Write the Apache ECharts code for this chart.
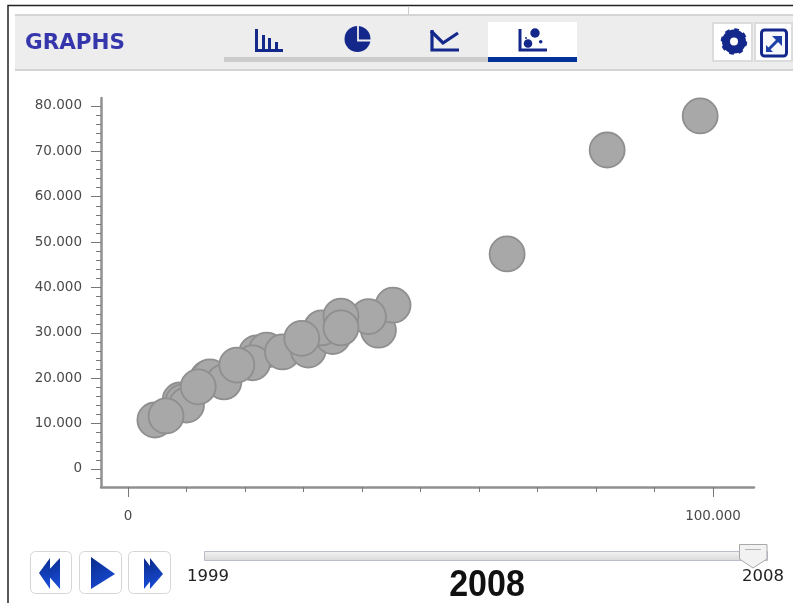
<!DOCTYPE html>
<html>
<head>
<meta charset="utf-8">
<title>Graphs</title>
<script src="https://cdn.jsdelivr.net/npm/echarts@6/dist/echarts.min.js"></script>
<style>
  html, body { margin: 0; padding: 0; background: #fff; }
  #main { width: 793px; height: 603px; }
</style>
</head>
<body>
<div id="main"></div>
<script>
var xValues = [4600, 8900, 9400, 10000, 6500, 13600, 14000, 16400, 12000, 22000, 23700, 21300, 18600, 26400, 30800, 35000, 33100, 29700, 42800, 45300, 41100, 36400, 36400, 64800, 81900, 97800];
var yValues = [10800, 15200, 14800, 14100, 11700, 20000, 20300, 19200, 18100, 25600, 26200, 23400, 22900, 25800, 26200, 29200, 31100, 28800, 30600, 36100, 33600, 33700, 31100, 47400, 70300, 77800];
var xLabelTicks = [0, 100000];
var xMinorTicks = [10000, 20000, 30000, 40000, 50000, 60000, 70000, 80000, 90000];
var yLabelTicks = [0, 10000, 20000, 30000, 40000, 50000, 60000, 70000, 80000];
var yMinorTicks = [-2000, 2000, 4000, 6000, 8000, 12000, 14000, 16000, 18000, 22000, 24000, 26000, 28000, 32000, 34000, 36000, 38000, 42000, 44000, 46000, 48000, 52000, 54000, 56000, 58000, 62000, 64000, 66000, 68000, 72000, 74000, 76000, 78000, 82000];
var yearStart = '1999';
var yearEnd = '2008';
var title = 'GRAPHS';

var points = xValues.map(function (x, i) { return [x, yValues[i]]; });
var navy = '#14288c';
var font = '"DejaVu Sans", sans-serif';

function dotted(v) {
  return String(v).replace(/\B(?=(\d{3})+$)/g, '.');
}
function box(x, y, w, h, fill, stroke, r, lw) {
  return { type: 'rect', shape: { x: x, y: y, width: w, height: h, r: r || 0 }, style: { fill: fill, stroke: stroke || null, lineWidth: stroke ? (lw || 1) : 0 } };
}
function line(pts, color, width) {
  return { type: 'polyline', shape: { points: pts }, style: { stroke: color, lineWidth: width, fill: null } };
}
function dot(x, y, r, color) {
  return { type: 'circle', shape: { cx: x, cy: y, r: r }, style: { fill: color } };
}
function poly(pts, color) {
  return { type: 'polygon', shape: { points: pts }, style: { fill: color } };
}
function label(x, y, text, size, weight, family, color, align) {
  return { type: 'text', x: x, y: y, style: { text: text, font: weight + ' ' + size + 'px ' + family, fill: color, align: align || 'center', verticalAlign: 'middle' } };
}

var blueGrad = new echarts.graphic.LinearGradient(0, 0, 1, 1, [
  { offset: 0, color: '#0a2a8a' },
  { offset: 1, color: '#1a50e0' }
]);

var bigYear = label(487, 585.5, yearEnd, 34, 'bold', '"Liberation Sans", sans-serif', '#111');
bigYear.scaleY = 1.08;

var chrome = [
  // frame and header
  line([[8, 603], [8, 5.5], [793, 5.5]], '#222', 1.5),
  line([[408.5, 6], [408.5, 15]], '#ccc', 1),
  box(15, 15, 778, 56, '#ededed'),
  box(15, 14, 778, 2, '#d4d4d4'),
  box(15, 69, 778, 2, '#d4d4d4'),
  label(25, 43.5, title, 21.5, 'bold', font, '#3636ac', 'left'),
  // tabs
  box(224, 57, 265, 5, '#cccccc'),
  box(488, 22, 89, 35, '#ffffff'),
  box(488, 57, 89, 5, '#003399'),
  // bar icon
  box(255, 29, 3, 22, navy), box(262, 35, 3, 16, navy), box(268, 38, 3, 13, navy), box(275, 42, 3, 9, navy),
  box(255, 49, 28, 3, navy),
  // pie icon
  dot(357.5, 39, 13, navy),
  line([[358, 26], [358, 40.5], [372, 40.5]], '#ededed', 1.8),
  // line icon
  line([[432, 30], [432, 50], [459, 50]], navy, 3.2),
  line([[431, 31], [443, 43], [458, 33]], navy, 3.2),
  // scatter icon
  line([[520, 29], [520, 50], [547, 50]], navy, 3),
  dot(535, 33, 4.7, navy), dot(528, 43.5, 4.3, navy), dot(540.7, 41.7, 1.8, navy), dot(526, 38, 1, navy),
  // settings and expand buttons
  box(713, 23, 39, 38, '#ffffff', '#dcdcdc', 0, 2),
  box(755, 23, 37, 38, '#ffffff', '#dcdcdc', 0, 2),
  { type: 'circle', shape: { cx: 734, cy: 41.5, r: 8 }, style: { fill: null, stroke: navy, lineWidth: 8 } },
  { type: 'circle', shape: { cx: 734, cy: 41.5, r: 12 }, style: { fill: null, stroke: navy, lineWidth: 2.5, lineDash: [4.7, 4.7] } },
  { type: 'rect', shape: { x: 761.5, y: 30, width: 25, height: 26, r: 3 }, style: { fill: '#f7f8fb', stroke: navy, lineWidth: 3 } },
  line([[769, 49], [778, 40]], '#1d3fa8', 3),
  poly([[772, 36], [782, 36], [782, 46]], '#1d3fa8'),
  poly([[766, 52], [766, 45], [773, 52]], '#1d3fa8'),
  // player buttons
  box(30.5, 551.5, 41, 42, '#ffffff', '#d6d6d6', 5),
  box(79.5, 551.5, 42, 42, '#ffffff', '#d6d6d6', 5),
  box(128.5, 551.5, 42, 42, '#ffffff', '#d6d6d6', 5),
  poly([[50, 558], [39, 573], [50, 589]], blueGrad),
  poly([[60, 558], [46, 573], [60, 589]], blueGrad),
  poly([[91, 557], [115, 574], [91, 589]], blueGrad),
  poly([[144, 558], [156, 574], [144, 589]], blueGrad),
  poly([[150, 558], [163, 574], [150, 589]], blueGrad),
  // year slider
  {
    type: 'rect', shape: { x: 204.5, y: 551.5, width: 563, height: 9 },
    style: {
      stroke: '#b9bccb', lineWidth: 1,
      fill: new echarts.graphic.LinearGradient(0, 0, 0, 1, [
        { offset: 0, color: '#f4f4f4' },
        { offset: 1, color: '#d8d8d8' }
      ])
    }
  },
  {
    type: 'polygon', shape: { points: [[739.5, 544.5], [767, 544.5], [767, 559], [753, 568], [739.5, 559]] },
    style: { fill: '#f2f2f2', stroke: '#a8a8a8', lineWidth: 1 }
  },
  line([[745, 549.5], [761, 549.5]], '#b4b4b4', 1),
  label(187, 577, yearStart, 16.5, 'normal', font, '#222', 'left'),
  label(763, 577, yearEnd, 16.5, 'normal', font, '#222'),
  bigYear
];

var chart = echarts.init(document.getElementById('main'), null, { renderer: 'canvas' });

var axisLine = { show: true, onZero: false, lineStyle: { color: '#909090', width: 2.5 } };
var tickStyle = { color: '#777', width: 1 };
var xRange = { min: -4615, max: 107000 };
var yRange = { min: -3970, max: 81760 };

chart.setOption({
  animation: false,
  backgroundColor: '#fff',
  grid: { left: 101, top: 98, width: 653, height: 389 },
  xAxis: [
    {
      type: 'value', min: xRange.min, max: xRange.max, splitLine: { show: false },
      axisLine: axisLine,
      axisTick: { customValues: xLabelTicks, length: 10, lineStyle: tickStyle },
      axisLabel: { customValues: xLabelTicks, margin: 22, color: '#4a4a4a', fontSize: 13.5, fontFamily: font, formatter: dotted }
    },
    {
      type: 'value', position: 'bottom', min: xRange.min, max: xRange.max, splitLine: { show: false },
      axisLine: { show: false, onZero: false },
      axisTick: { customValues: xMinorTicks, length: 5, lineStyle: tickStyle },
      axisLabel: { show: false }
    }
  ],
  yAxis: [
    {
      type: 'value', min: yRange.min, max: yRange.max, splitLine: { show: false },
      axisLine: axisLine,
      axisTick: { customValues: yLabelTicks, length: 10, lineStyle: tickStyle },
      axisLabel: { customValues: yLabelTicks, margin: 19, color: '#4a4a4a', fontSize: 13.5, fontFamily: font, formatter: dotted }
    },
    {
      type: 'value', position: 'left', min: yRange.min, max: yRange.max, splitLine: { show: false },
      axisLine: { show: false, onZero: false },
      axisTick: { customValues: yMinorTicks, length: 5, lineStyle: tickStyle },
      axisLabel: { show: false }
    }
  ],
  series: [{
    type: 'scatter',
    data: points,
    symbolSize: 35,
    clip: false,
    itemStyle: { color: '#a8a8a8', borderColor: '#8f8f8f', borderWidth: 1.8, opacity: 1 }
  }],
  graphic: { elements: chrome }
});
</script>
</body>
</html>
